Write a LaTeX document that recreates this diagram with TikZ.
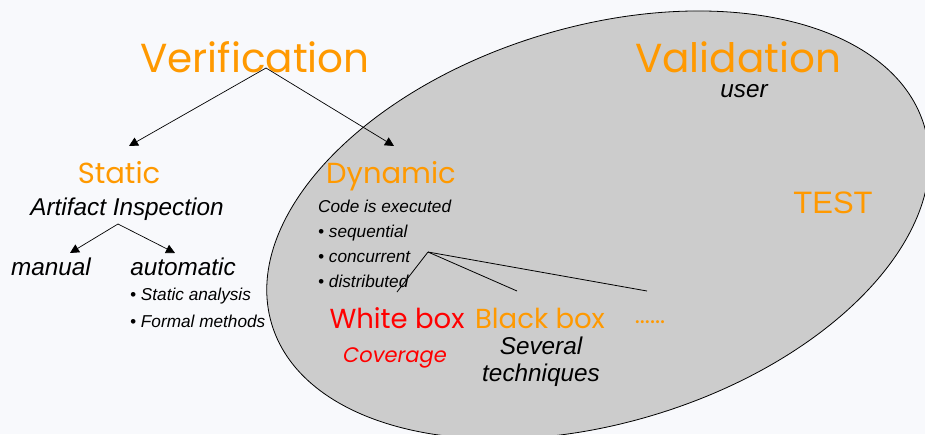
\documentclass[tikz,border=0pt]{standalone}
\usepackage{fontspec}
\setmainfont{Liberation Sans}
\newfontfamily\comic{Poppins}
\usetikzlibrary{arrows.meta}
\definecolor{bg}{HTML}{F8F9FC}
\definecolor{org}{HTML}{FF9900}
\definecolor{ellfill}{HTML}{CCCCCC}
\begin{document}
\begin{tikzpicture}[x=1pt,y=-1pt,
  big/.style={font=\comic\fontsize{40.5}{40.5}\selectfont, text=org, inner sep=0pt, text depth=0pt},
  mid/.style={font=\comic\fontsize{29}{29}\selectfont, text=org, inner sep=0pt, text depth=0pt},
  boxlab/.style={font=\comic\fontsize{27.5}{27.5}\selectfont, text=org, inner sep=0pt, text depth=0pt},
  lab/.style={font=\itshape\fontsize{24.3}{24.3}\selectfont, inner sep=0pt},
  small/.style={font=\itshape\fontsize{17.2}{17.2}\selectfont, inner sep=0pt},
  arr/.style={-{Triangle[length=9pt,width=9pt]}, line width=0.7pt},
  ln/.style={line width=0.8pt}]
\useasboundingbox (0,0) rectangle (925,434);
\fill[bg] (0,0) rectangle (925,434);
\coordinate (ec) at (598,225);
\draw[fill=ellfill, line width=0.8pt, rotate around={17:(ec)}] (ec) ellipse [x radius=341pt, y radius=198pt];

\node[big, anchor=base] (ver) at (255,72) {Verification};
\node[big, anchor=base] (val) at (738,72) {Validation};
\node[lab, anchor=base, text depth=0pt] (user) at (744,97) {user};
\node[font=\fontsize{31}{31}\selectfont, text=org, inner sep=0pt, anchor=base] (test) at (833,213) {TEST};

\node[mid, anchor=base] (static) at (119,183) {Static};
\node[lab, anchor=base] (art) at (127,215) {Artifact Inspection};
\node[lab, anchor=base] (man) at (51,275) {manual};
\node[lab, anchor=base] (auto) at (183,275) {automatic};
\node[small, anchor=base west] (sa) at (130,300) {\textbullet\ Static analysis};
\node[small, anchor=base west] (fm) at (130,327) {\textbullet\ Formal methods};

\node[mid, anchor=base] (dyn) at (391,183) {Dynamic};
\node[small, anchor=base west] (code) at (318,212) {Code is executed};
\node[small, anchor=base west] (seq) at (318,237) {\textbullet\ sequential};
\node[small, anchor=base west] (conc) at (318,262) {\textbullet\ concurrent};
\node[small, anchor=base west] (dist) at (318,287) {\textbullet\ distributed};

\node[boxlab, text=red, anchor=base] (wb) at (397,328) {White box};
\node[lab, font=\comic\itshape\fontsize{21}{21}\selectfont, text=red, anchor=base] (cov) at (395,362) {Coverage};
\node[boxlab, anchor=base] (bb) at (540,328) {Black box};
\node[lab, anchor=base] (sev) at (541,354) {Several};
\node[lab, anchor=base] (tech) at (541,381) {techniques};
\node[mid, font=\comic\fontsize{24}{24}\selectfont, anchor=base] (dots) at (650,323) {......};

\coordinate (vs) at (266,68);
\coordinate (st) at (129,146);
\coordinate (dt) at (394,146);
\draw[arr] (vs) -- (st);
\draw[arr] (vs) -- (dt);
\coordinate (as) at (118,224);
\coordinate (mt) at (70,253);
\coordinate (at) at (175,253);
\draw[arr] (as) -- (mt);
\draw[arr] (as) -- (at);
\coordinate (cs) at (428,252);
\coordinate (w1) at (397,292);
\coordinate (b1) at (517,291);
\coordinate (d1) at (647,291);
\draw[ln] (cs) -- (w1);
\draw[ln] (cs) -- (b1);
\draw[ln] (cs) -- (d1);
\end{tikzpicture}
\end{document}
